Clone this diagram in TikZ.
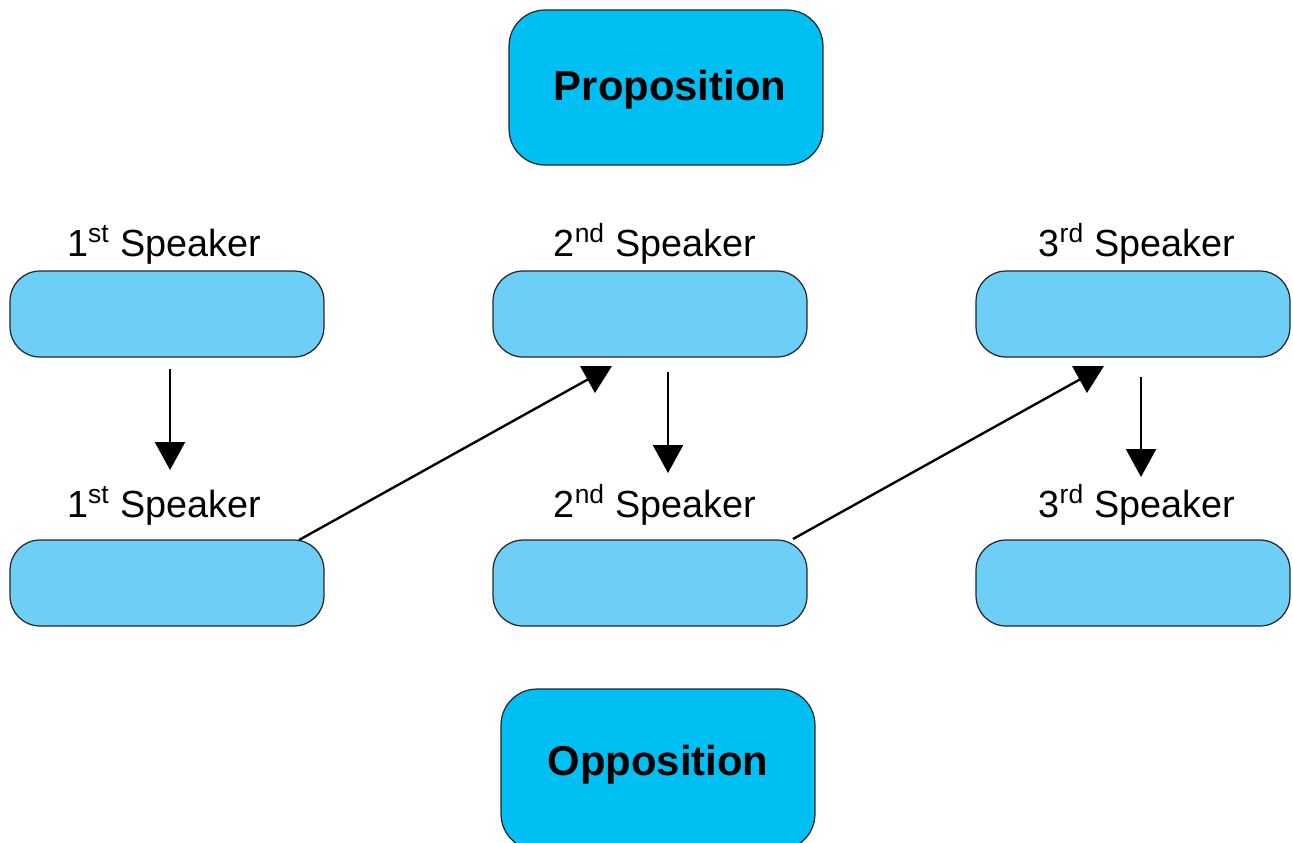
\documentclass[tikz,border=0pt]{standalone}
\usepackage{fontspec}
\setmainfont{Liberation Sans}
\usetikzlibrary{arrows.meta}
\definecolor{mainblue}{HTML}{00BFF3}
\definecolor{spkblue}{HTML}{6DCFF6}
\begin{document}
\begin{tikzpicture}[x=0.02cm,y=-0.02cm,
 spkbox/.style={draw=black!85, fill=spkblue, rounded corners=0.6cm, line width=0.7pt, minimum width=6.28cm, minimum height=1.72cm, inner sep=0},
 mainbox/.style={draw=black!85, fill=mainblue, rounded corners=0.72cm, line width=0.7pt, minimum width=6.28cm, inner sep=0},
 lbl/.style={anchor=base, font=\fontsize{21.5}{24}\selectfont, inner sep=0},
 ttl/.style={anchor=base, font=\bfseries\fontsize{23.8}{26}\selectfont, inner sep=0},
 arr/.style={line width=1.35pt, -{Triangle[length=0.56cm,width=0.6cm]}}]
\useasboundingbox (0,0) rectangle (1293,842);
% main boxes
\node[mainbox, minimum height=3.1cm] (prop) at (666,87.5) {};
\node[ttl] (proptext) at (670,100) {Proposition};
\node[mainbox, minimum height=3.22cm] (opp) at (658,769.5) {};
\node[ttl] (opptext) at (658,775) {Opposition};
% speaker boxes
\node[spkbox] (p1) at (167,314) {};
\node[spkbox] (p2) at (650,314) {};
\node[spkbox] (p3) at (1133,314) {};
\node[spkbox] (o1) at (167,583) {};
\node[spkbox] (o2) at (650,583) {};
\node[spkbox] (o3) at (1133,583) {};
% labels
\node[lbl] (lp1) at (164,256) {1\textsuperscript{st} Speaker};
\node[lbl] (lp2) at (655,256) {2\textsuperscript{nd} Speaker};
\node[lbl] (lp3) at (1137,256) {3\textsuperscript{rd} Speaker};
\node[lbl] (lo1) at (164,517) {1\textsuperscript{st} Speaker};
\node[lbl] (lo2) at (655,517) {2\textsuperscript{nd} Speaker};
\node[lbl] (lo3) at (1137,517) {3\textsuperscript{rd} Speaker};
% arrow endpoints
\coordinate (a1s) at (170,369);
\coordinate (a1e) at (170,470);
\coordinate (a2s) at (299,540);
\coordinate (a2e) at (612,366);
\coordinate (a3s) at (668,372);
\coordinate (a3e) at (668,473);
\coordinate (a4s) at (793,539);
\coordinate (a4e) at (1104,366);
\coordinate (a5s) at (1141,377);
\coordinate (a5e) at (1141,477);
\draw[arr] (a1s) -- (a1e);
\draw[arr] (a2s) -- (a2e);
\draw[arr] (a3s) -- (a3e);
\draw[arr] (a4s) -- (a4e);
\draw[arr] (a5s) -- (a5e);
\end{tikzpicture}
\end{document}
